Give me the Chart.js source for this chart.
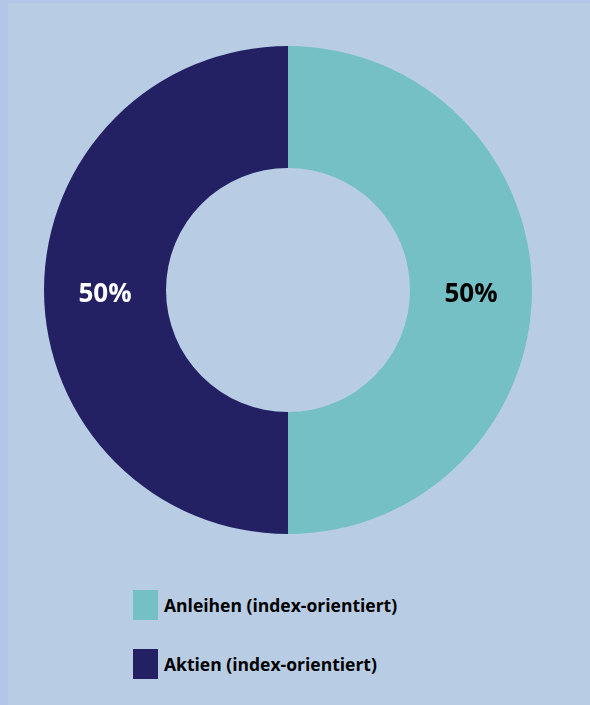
<!DOCTYPE html>
<html>
<head>
<meta charset="utf-8">
<script src="https://cdn.jsdelivr.net/npm/chart.js@4"></script>
<style>
  html, body { margin: 0; padding: 0; }
  body { width: 590px; height: 705px; background: #b4c6e7; overflow: hidden; position: relative; font-family: "Open Sans", sans-serif; }
  #panel { position: absolute; left: 8px; top: 3px; right: 0; bottom: 0; background: #b8cce4; }
  #chart-wrap { position: absolute; left: 44px; top: 46px; width: 488px; height: 488px; }
  #legend { position: absolute; left: 133px; top: 590px; }
  .item { display: flex; align-items: center; height: 30px; margin-bottom: 29px; }
  .box { width: 25px; height: 30px; margin-right: 6px; }
  .label { font-weight: bold; font-size: 17.5px; color: #000; }
</style>
</head>
<body>
<div id="panel"></div>
<div id="chart-wrap"><canvas id="donut" width="488" height="488"></canvas></div>
<div id="legend"></div>
<script>
// Data
const labels = ['Anleihen (index-orientiert)', 'Aktien (index-orientiert)'];
const values = [50, 50];
const colors = ['#75c0c4', '#232164'];
const labelColors = ['#000000', '#ffffff'];

// Draw percentage labels in the middle of each ring segment
const percentLabels = {
    id: 'percentLabels',
    afterDatasetsDraw(chart) {
        const ctx = chart.ctx;
        const meta = chart.getDatasetMeta(0);
        const total = values.reduce((a, b) => a + b, 0);
        ctx.save();
        ctx.font = 'bold 26px "Open Sans"';
        ctx.textAlign = 'center';
        ctx.textBaseline = 'middle';
        meta.data.forEach((arc, i) => {
            const pos = arc.tooltipPosition();
            ctx.fillStyle = labelColors[i];
            ctx.fillText(Math.round(values[i] / total * 100) + '%', pos.x, pos.y + 5);
        });
        ctx.restore();
    }
};

new Chart(document.getElementById('donut').getContext('2d'), {
    type: 'doughnut',
    data: {
        labels: labels,
        datasets: [{
            data: values,
            backgroundColor: colors,
            borderWidth: 0
        }]
    },
    options: {
        responsive: false,
        animation: false,
        cutout: '50%',
        layout: { padding: 0 },
        plugins: {
            legend: { display: false },
            tooltip: { enabled: false }
        }
    },
    plugins: [percentLabels]
});

// Legend built from the same arrays
const legend = document.getElementById('legend');
labels.forEach((label, i) => {
    const item = document.createElement('div');
    item.className = 'item';
    item.innerHTML = '<div class="box" style="background:' + colors[i] + '"></div><span class="label">' + label + '</span>';
    legend.appendChild(item);
});
</script>
</body>
</html>
